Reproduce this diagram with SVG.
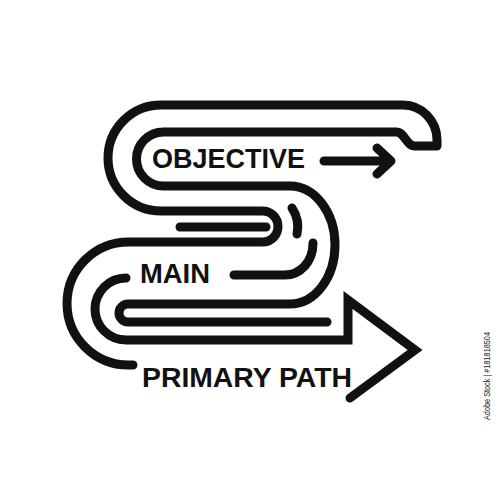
<svg xmlns="http://www.w3.org/2000/svg" width="500" height="500" viewBox="0 0 500 500">
  <style>
    .edge { fill: none; stroke: #111; stroke-width: 9; stroke-linecap: round; stroke-linejoin: round; }
    .arrow { fill: none; stroke: #111; stroke-width: 9; stroke-linecap: round; stroke-linejoin: miter; stroke-miterlimit: 10; }
    .label { font-family: "Liberation Sans", Arial, sans-serif; font-weight: bold; fill: #111; }
    .id { font-family: "Liberation Sans", Arial, sans-serif; fill: #222; font-size: 8.5px; }
  </style>
  <rect width="500" height="500" fill="#ffffff"/>
  <g id="road">
    <path class="edge" d="M 133,365 L 128.5,365 A 61.5 61.5 0 0 1 128.5,242 L 262.5,242 A 15.5 15.5 0 0 0 262.5,211 L 161,211 A 53 53 0 0 1 161,105 L 403,105 C 422,105 437,121 437,140 L 437,146 L 415,146 C 406,146 405,132 396,132 L 163.5,132 A 27 27 0 0 0 163.5,186 L 290,186 A 45 59 0 0 1 290,304 L 128,304 A 9 9 0 0 0 128,322 L 327,322"/>
    <path class="arrow" d="M 126,278 A 31 31 0 0 0 126,340 L 348,340 L 348,300 L 415,350 L 350,398"/>
  </g>
  <g id="lane">
    <path class="edge" d="M 180,227 L 266,227"/>
    <path class="edge" d="M 292,208 Q 300,220 297,234"/>
    <path class="edge" d="M 313,243 C 313,262 300,275 285,275 L 234,275"/>
    <path class="edge" d="M 324,161 L 390,161 M 377,148 L 391,161 L 377,174"/>
  </g>
  <g id="labels">
    <text class="label" x="152" y="168" font-size="27" textLength="153" lengthAdjust="spacingAndGlyphs">OBJECTIVE</text>
    <text class="label" x="140" y="283" font-size="27" textLength="70" lengthAdjust="spacingAndGlyphs">MAIN</text>
    <text class="label" x="142" y="387" font-size="27.5" textLength="210" lengthAdjust="spacingAndGlyphs">PRIMARY PATH</text>
    <text class="id" transform="translate(490,420) rotate(-90)" textLength="88" lengthAdjust="spacingAndGlyphs">Adobe Stock | #181818504</text>
  </g>
</svg>
